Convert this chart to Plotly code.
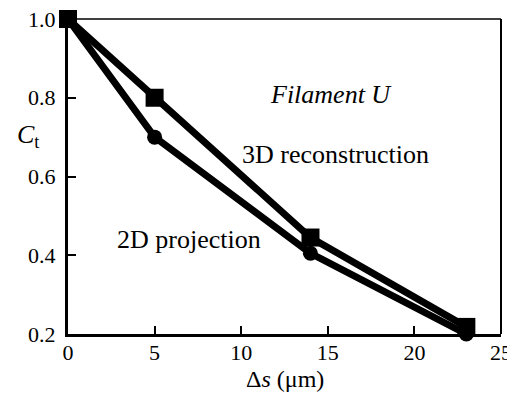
import plotly.graph_objects as go

x_vals = [0, 5, 14, 23]
recon_3d = [1.0, 0.80, 0.445, 0.218]
proj_2d = [1.0, 0.70, 0.405, 0.20]
x_ticks = [0, 5, 10, 15, 20, 25]
y_ticks = [0.2, 0.4, 0.6, 0.8, 1.0]

FONT = "Liberation Serif, Times New Roman, serif"

# page has an 8px body margin, so the figure is drawn offset by (8, 8)
OFF = 8
W, H = 515 - OFF, 395 - OFF
L, R, T, B = 68 - OFF, 14, 19 - OFF, 61
pw, ph = W - L - R, H - T - B


def px(cx):
    return (cx - OFF - L) / pw


def py(cy):
    return (H - B - (cy - OFF)) / ph


def label(text, cx, cy, size):
    return dict(text=text, x=px(cx), y=py(cy), xref="paper", yref="paper",
                xanchor="center", yanchor="middle", showarrow=False,
                font=dict(size=size))


fig = go.Figure()
fig.add_trace(go.Scatter(x=x_vals, y=proj_2d, mode="lines+markers",
                         line=dict(color="black", width=7),
                         marker=dict(symbol="circle", size=15, color="black"),
                         cliponaxis=False, showlegend=False))
fig.add_trace(go.Scatter(x=x_vals, y=recon_3d, mode="lines+markers",
                         line=dict(color="black", width=7),
                         marker=dict(symbol="square", size=18, color="black"),
                         cliponaxis=False, showlegend=False))

fig.update_layout(
    width=W, height=H,
    margin=dict(l=L, r=R, t=T, b=B),
    paper_bgcolor="white", plot_bgcolor="white",
    font=dict(family=FONT, color="black", size=22),
    xaxis=dict(range=[0, 25], tickvals=x_ticks, ticktext=[str(v) for v in x_ticks],
               showline=True, linecolor="black", linewidth=3,
               ticks="inside", ticklen=8, tickwidth=2, tickcolor="black",
               showgrid=False, zeroline=False, tickfont=dict(size=22),
               ticklabelstandoff=-3, automargin=False, ticklabeloverflow="allow"),
    yaxis=dict(range=[0.2, 1.0], tickvals=y_ticks, ticktext=[f"{v:.1f}" for v in y_ticks],
               showline=True, linecolor="black", linewidth=3,
               ticks="inside", ticklen=8, tickwidth=2, tickcolor="black",
               showgrid=False, zeroline=False, tickfont=dict(size=22),
               ticklabelstandoff=5, automargin=False, ticklabeloverflow="allow"),
    shapes=[
        dict(type="line", xref="paper", yref="paper", x0=0, x1=1, y0=1, y1=1,
             line=dict(color="black", width=1.5)),
        dict(type="line", xref="paper", yref="paper", x0=1, x1=1, y0=0, y1=1,
             line=dict(color="black", width=2)),
    ],
    annotations=[
        label("<i>Filament U</i>", 331, 94, 26),
        label("3D reconstruction", 335, 154, 26),
        label("2D projection", 189, 240, 26),
        label("Δ<i>s</i> (μm)", 285, 379, 24),
        label("<i>C</i><sub>t</sub>", 28, 136, 26),
    ],
)

fig.write_html("out.html")
